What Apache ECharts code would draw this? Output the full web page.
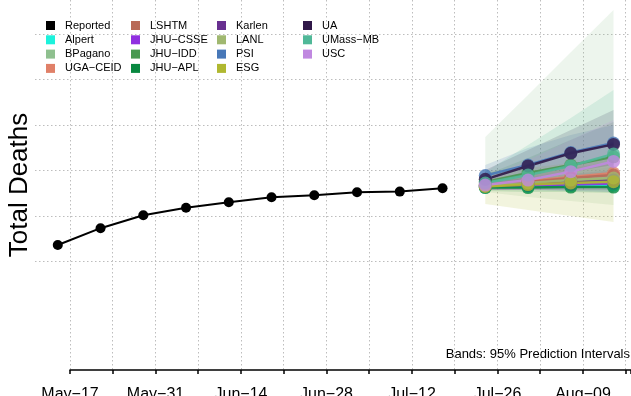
<!DOCTYPE html>
<html><head><meta charset="utf-8">
<script src="https://cdn.jsdelivr.net/npm/echarts@6/dist/echarts.min.js"></script>
<style>html,body{margin:0;padding:0;background:#fff}#c{width:631px;height:396px}</style>
</head><body><div id="c"></div>
<script>
// x tick labels (every other weekly tick is labelled)
const tickLabels = ['May\u221217','May\u221231','Jun\u221214','Jun\u221228','Jul\u221212','Jul\u221226','Aug\u221209'];

// Reported total deaths (thousands; y axis is unlabelled in the reference)
const reportedDates = ['2021-05-15','2021-05-22','2021-05-29','2021-06-05','2021-06-12','2021-06-19','2021-06-26','2021-07-03','2021-07-10','2021-07-17'];
const reportedDeaths = [587.1, 594.5, 600.2, 603.5, 605.9, 608.1, 609.0, 610.3, 610.6, 612.1];

// Forecast target dates
const forecastDates = ['2021-07-24','2021-07-31','2021-08-07','2021-08-14'];

// Model forecasts: median, 95% lower, 95% upper
const alpertMid = [612.6, 612.9, 613.3, 613.5];
const alpertLo  = [611.3, 611.3, 610.9, 610.4];
const alpertHi  = [614.0, 614.8, 615.7, 616.6];

const bpaganoMid = [613.5, 614.4, 615.3, 616.2];
const bpaganoLo  = [610.4, 608.2, 606.5, 604.7];
const bpaganoHi  = [634.7, 653.1, 672.0, 690.6];

const ugaMid = [613.5, 615.3, 617.0, 618.8];
const ugaLo  = [611.8, 612.2, 612.6, 613.1];
const ugaHi  = [615.7, 619.2, 622.8, 626.3];

const lshtmMid = [613.3, 614.8, 616.6, 617.9];
const lshtmLo  = [611.3, 611.8, 612.2, 612.6];
const lshtmHi  = [615.7, 618.4, 621.0, 623.6];

const jhuCsseMid = [612.9, 613.3, 613.7, 614.2];
const jhuCsseLo  = [611.3, 611.3, 610.9, 610.4];
const jhuCsseHi  = [614.4, 615.7, 617.0, 618.4];

const jhuIddMid = [614.8, 618.8, 622.3, 625.9];
const jhuIddLo  = [612.2, 613.1, 614.0, 614.8];
const jhuIddHi  = [617.9, 625.4, 633.3, 641.3];

const jhuAplMid = [612.4, 612.4, 612.6, 612.6];
const jhuAplLo  = [610.9, 610.4, 610.4, 610.0];
const jhuAplHi  = [614.0, 614.4, 615.3, 615.7];

const karlenMid = [613.1, 614.0, 614.8, 615.7];
const karlenLo  = [611.3, 611.3, 611.3, 611.3];
const karlenHi  = [614.8, 616.6, 618.4, 620.1];

const lanlMid = [613.1, 614.4, 615.7, 616.6];
const lanlLo  = [611.3, 611.8, 612.2, 612.2];
const lanlHi  = [614.8, 617.0, 619.2, 621.4];

const psiMid = [617.7, 622.3, 627.8, 632.0];
const psiLo  = [613.5, 614.8, 616.6, 617.9];
const psiHi  = [622.3, 629.8, 635.5, 639.9];

const esgMid = [612.9, 613.7, 614.4, 615.0];
const esgLo  = [605.2, 602.5, 599.9, 597.2];
const esgHi  = [619.2, 621.0, 623.2, 625.4];

const uaMid = [616.0, 621.9, 627.5, 631.4];
const uaLo  = [613.1, 615.7, 619.2, 622.3];
const uaHi  = [620.1, 628.9, 637.7, 646.5];

const umassMid = [614.4, 617.9, 621.9, 627.2];
const umassLo  = [611.3, 612.2, 613.1, 614.0];
const umassHi  = [619.2, 631.1, 643.0, 655.3];

const uscMid = [613.5, 615.7, 619.4, 623.9];
const uscLo  = [611.3, 611.3, 612.2, 613.1];
const uscHi  = [616.6, 624.5, 633.3, 642.1];

const models = [
  {name:'Alpert', mid:alpertMid, lo:alpertLo, hi:alpertHi, color:'#1cf2dc'},
  {name:'BPagano', mid:bpaganoMid, lo:bpaganoLo, hi:bpaganoHi, color:'#8fc08f'},
  {name:'UGA\u2212CEID', mid:ugaMid, lo:ugaLo, hi:ugaHi, color:'#e08068'},
  {name:'LSHTM', mid:lshtmMid, lo:lshtmLo, hi:lshtmHi, color:'#b86a58'},
  {name:'JHU\u2212CSSE', mid:jhuCsseMid, lo:jhuCsseLo, hi:jhuCsseHi, color:'#9030e0'},
  {name:'JHU\u2212IDD', mid:jhuIddMid, lo:jhuIddLo, hi:jhuIddHi, color:'#489850'},
  {name:'JHU\u2212APL', mid:jhuAplMid, lo:jhuAplLo, hi:jhuAplHi, color:'#088840'},
  {name:'Karlen', mid:karlenMid, lo:karlenLo, hi:karlenHi, color:'#683090'},
  {name:'LANL', mid:lanlMid, lo:lanlLo, hi:lanlHi, color:'#a0b870'},
  {name:'PSI', mid:psiMid, lo:psiLo, hi:psiHi, color:'#4878b8'},
  {name:'ESG', mid:esgMid, lo:esgLo, hi:esgHi, color:'#b0b830'},
  {name:'UA', mid:uaMid, lo:uaLo, hi:uaHi, color:'#301848'},
  {name:'UMass\u2212MB', mid:umassMid, lo:umassLo, hi:umassHi, color:'#50b898'},
  {name:'USC', mid:uscMid, lo:uscLo, hi:uscHi, color:'#c088e0'}
];

const legendCols = [
  ['Reported','Alpert','BPagano','UGA\u2212CEID'],
  ['LSHTM','JHU\u2212CSSE','JHU\u2212IDD','JHU\u2212APL'],
  ['Karlen','LANL','PSI','ESG'],
  ['UA','UMass\u2212MB','USC']
];

const origin = Date.UTC(2021, 4, 17);
function dayOf(s){ return (Date.parse(s + 'T00:00:00Z') - origin) / 86400000; }
const fDays = forecastDates.map(dayOf);

const FONT = '"Liberation Sans", Arial, Helvetica, sans-serif';
const series = [];

// prediction bands as polygons through the axis scales
models.forEach(m => {
  series.push({
    name: m.name + ' band', type:'custom', silent:true, z:1,
    xAxisIndex:0, yAxisIndex:0,
    data: fDays.map((d, k) => [d, m.lo[k], m.hi[k]]),
    encode:{x:0, y:[1, 2]},
    renderItem: function(params, api){
      if (params.dataIndexInside !== 0) return;
      const n = params.dataInsideLength;
      const up = [], dn = [];
      for (let j = 0; j < n; j++) {
        const x = api.value(0, j);
        up.push(api.coord([x, api.value(2, j)]));
        dn.unshift(api.coord([x, api.value(1, j)]));
      }
      return {type:'polygon', shape:{points: up.concat(dn)},
              style:{fill:m.color, opacity:0.16}};
    }
  });
});
models.forEach(m => {
  series.push({
    name: m.name, type:'line', xAxisIndex:0, yAxisIndex:0,
    data: fDays.map((d, k) => [d, m.mid[k]]),
    color: m.color, symbol:'circle', symbolSize:13,
    lineStyle:{width:2.5, color:m.color, opacity:0.9},
    itemStyle:{color:m.color, opacity:0.8}, z:3
  });
});
series.push({
  name:'Reported', type:'line', xAxisIndex:0, yAxisIndex:0,
  data: reportedDates.map((d, k) => [dayOf(d), reportedDeaths[k]]),
  color:'#000', symbol:'circle', symbolSize:10,
  lineStyle:{width:2, color:'#000'}, itemStyle:{color:'#000'}, z:4
});

const legendLefts = [46, 131, 217, 303];
const legends = legendCols.map((col, i) => ({
  orient:'vertical', left: legendLefts[i], top: 20, padding:0,
  itemWidth:9, itemHeight:9, itemGap:3.3, icon:'rect', selectedMode:false,
  itemStyle:{opacity:1, borderWidth:0},
  textStyle:{fontSize:11, color:'#000', fontFamily:FONT, lineHeight:11, padding:[0,0,0,5]},
  data: col
}));

const dotted = {color:'#bdbdbd', type:[1.5, 2.5], width:1};
const PX_PER_DAY = 6.107;

const chart = echarts.init(document.getElementById('c'), null, {renderer:'canvas'});
chart.setOption({
  animation:false,
  backgroundColor:'#fff',
  textStyle:{fontFamily:FONT},
  legend: legends,
  grid:[
    {left:70 - 7 * PX_PER_DAY, right:0, top:0, bottom:26, containLabel:false, outerBoundsMode:'none'},  // data
    {left:70, right:0, top:0, bottom:26, containLabel:false, outerBoundsMode:'none'},                    // date axis
    {left:35, right:0, top:34, height:227.5, containLabel:false, outerBoundsMode:'none'}                  // horizontal grid
  ],
  xAxis:[
    {type:'value', gridIndex:0, min:-7, max:91.86, show:false},
    {type:'value', gridIndex:1, min:0, max:91.86, interval:7,
     axisLine:{show:true, onZero:false, lineStyle:{color:'#000', width:1.5}},
     axisTick:{show:true, length:4, lineStyle:{color:'#000', width:1.5}},
     axisLabel:{fontSize:16, color:'#000', margin:17, fontFamily:FONT,
       formatter: v => (Math.abs(v % 14) < 1e-6 && tickLabels[v / 14] !== undefined) ? tickLabels[v / 14] : ''},
     splitLine:{show:true, lineStyle:dotted}},
    {type:'value', gridIndex:2, min:0, max:1, show:false}
  ],
  yAxis:[
    {type:'value', gridIndex:0, min:532.06, max:694.97, show:false},
    {type:'value', gridIndex:1, min:0, max:1,
     name:'Total Deaths', nameLocation:'middle', nameGap:37,
     nameTextStyle:{fontSize:26, color:'#000', fontFamily:FONT},
     axisLine:{show:false}, axisTick:{show:false}, axisLabel:{show:false}, splitLine:{show:false}},
    {type:'value', gridIndex:2, min:0, max:5, interval:1,
     axisLine:{show:false}, axisTick:{show:false}, axisLabel:{show:false},
     splitLine:{show:true, lineStyle:dotted}}
  ],
  graphic:[
    {type:'text', right:1, top:348,
     style:{text:'Bands: 95% Prediction Intervals', font:'13px ' + FONT, fill:'#000'}}
  ],
  series: series
});
</script>
</body></html>
